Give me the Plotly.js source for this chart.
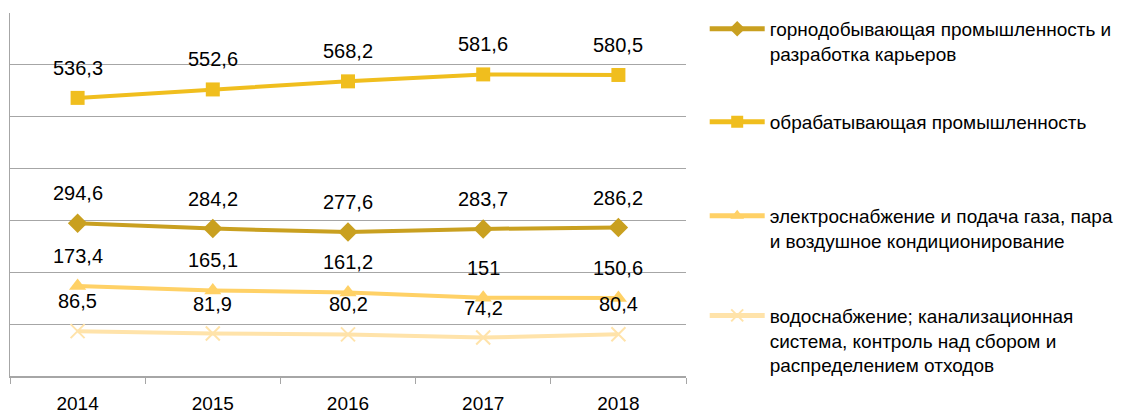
<!DOCTYPE html>
<html>
<head>
<meta charset="utf-8">
<script src="https://cdn.plot.ly/plotly-3.0.1.min.js"></script>
<style>html,body{margin:0;padding:0;background:#fff;}#chart{width:1125px;height:413px;}</style>
</head>
<body>
<div id="chart"></div>
<script>
const years = ['2014', '2015', '2016', '2017', '2018'];
const mining = [294.6, 284.2, 277.6, 283.7, 286.2];
const manufacturing = [536.3, 552.6, 568.2, 581.6, 580.5];
const electricity = [173.4, 165.1, 161.2, 151, 150.6];
const water = [86.5, 81.9, 80.2, 74.2, 80.4];
const names = [
  'горнодобывающая промышленность и<br>разработка карьеров',
  'обрабатывающая промышленность',
  'электроснабжение и подача газа, пара<br>и воздушное кондиционирование',
  'водоснабжение; канализационная<br>система, контроль над сбором и<br>распределением отходов'
];

const FONT = 'Liberation Sans, Arial, sans-serif';
const series = [
  {y: mining, color: '#C9A020', symbol: 'diamond', size: 15, lw: 4, legend: 'legend'},
  {y: manufacturing, color: '#F0BE1E', symbol: 'square', size: 14, lw: 4, legend: 'legend2'},
  {y: electricity, color: '#FFD166', symbol: 'triangle-up', size: 15, lw: 4, legend: 'legend3'},
  {y: water, color: '#FFE3AA', symbol: 'x-thin', size: 14, lw: 4, legend: 'legend4'}
];

const traces = series.map((s, i) => ({
  type: 'scatter', mode: 'lines+markers', x: years, y: s.y, name: names[i],
  legend: s.legend,
  line: {color: s.color, width: s.lw},
  marker: s.symbol === 'x-thin'
    ? {symbol: s.symbol, size: s.size, color: s.color, line: {color: s.color, width: 2}}
    : {symbol: s.symbol, size: s.size, color: s.color},
  hoverinfo: 'skip'
}));

const annotations = [];
series.forEach(s => {
  s.y.forEach((v, j) => {
    annotations.push({
      x: j, y: v, xref: 'x', yref: 'y',
      text: String(v).replace('.', ','), showarrow: false,
      yshift: 30, font: {family: FONT, size: 20, color: '#000'}
    });
  });
});

function leg(y) {
  return {x: 0.6264, xref: 'container', yref: 'container', xanchor: 'left', y: y, yanchor: 'top',
    valign: 'top', itemwidth: 55, itemsizing: 'constant',
    font: {family: FONT, size: 19, color: '#000'}, bgcolor: 'rgba(0,0,0,0)', borderwidth: 0};
}

const layout = {
  width: 1125, height: 413,
  margin: {l: 10, r: 439, t: 13, b: 37},
  paper_bgcolor: '#fff', plot_bgcolor: '#fff',
  showlegend: true,
  legend: leg(0.976), legend2: leg(0.751), legend3: leg(0.523), legend4: leg(0.282),
  xaxis: {
    type: 'category', range: [-0.5, 4.5], showgrid: false, showline: true, linecolor: '#A6A6A6', linewidth: 2,
    ticks: 'outside', tickson: 'boundaries', ticklen: 6, tickcolor: '#A6A6A6', tickwidth: 1,
    ticklabelstandoff: 9, automargin: false,
    tickfont: {family: FONT, size: 19, color: '#000'}, fixedrange: true
  },
  yaxis: {
    range: [0, 700], dtick: 100, showticklabels: false, ticks: '', automargin: false,
    showgrid: true, gridcolor: '#A6A6A6', gridwidth: 1,
    showline: true, linecolor: '#A6A6A6', linewidth: 1, zeroline: false, fixedrange: true
  },
  annotations: annotations
};

Plotly.newPlot('chart', traces, layout, {staticPlot: true, displayModeBar: false});
</script>
</body>
</html>
